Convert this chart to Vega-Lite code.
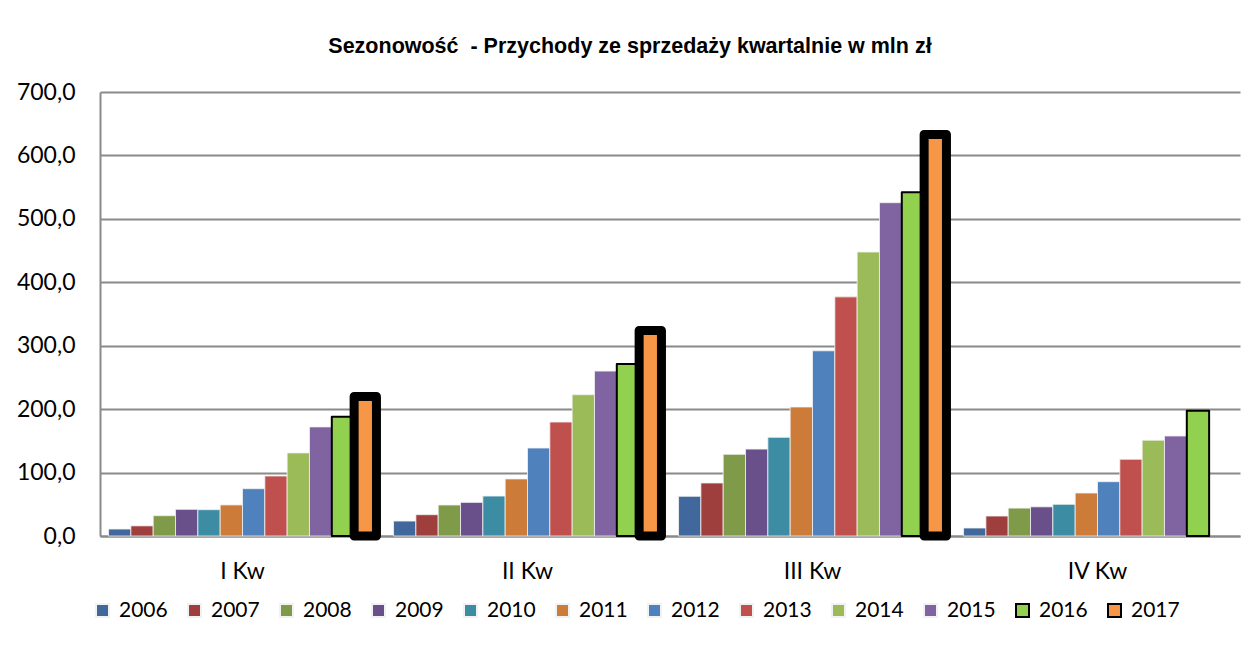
{
  "$schema": "https://vega.github.io/schema/vega-lite/v6.json",
  "width": 1140,
  "height": 444,
  "autosize": {"type": "none"},
  "padding": {"left": 100, "top": 92, "right": 11, "bottom": 110},
  "background": "white",
  "title": {
    "text": "Sezonowość \u00a0- Przychody ze sprzedaży kwartalnie w mln zł",
    "font": "Liberation Sans",
    "fontSize": 21.5,
    "fontWeight": "bold",
    "color": "#000000",
    "anchor": "middle",
    "frame": "group",
    "dx": -40,
    "baseline": "bottom",
    "offset": 2
  },
  "data": {
    "values": [
      {"kw": "I Kw", "rok": "2006", "v": 11},
      {"kw": "I Kw", "rok": "2007", "v": 16},
      {"kw": "I Kw", "rok": "2008", "v": 32},
      {"kw": "I Kw", "rok": "2009", "v": 42},
      {"kw": "I Kw", "rok": "2010", "v": 41.5},
      {"kw": "I Kw", "rok": "2011", "v": 49},
      {"kw": "I Kw", "rok": "2012", "v": 74.6},
      {"kw": "I Kw", "rok": "2013", "v": 94.6},
      {"kw": "I Kw", "rok": "2014", "v": 131},
      {"kw": "I Kw", "rok": "2015", "v": 172},
      {"kw": "I Kw", "rok": "2016", "v": 188},
      {"kw": "I Kw", "rok": "2017", "v": 220},
      {"kw": "II Kw", "rok": "2006", "v": 23.6},
      {"kw": "II Kw", "rok": "2007", "v": 33.6},
      {"kw": "II Kw", "rok": "2008", "v": 48.9},
      {"kw": "II Kw", "rok": "2009", "v": 53},
      {"kw": "II Kw", "rok": "2010", "v": 63},
      {"kw": "II Kw", "rok": "2011", "v": 90},
      {"kw": "II Kw", "rok": "2012", "v": 138.7},
      {"kw": "II Kw", "rok": "2013", "v": 179.7},
      {"kw": "II Kw", "rok": "2014", "v": 222.8},
      {"kw": "II Kw", "rok": "2015", "v": 260},
      {"kw": "II Kw", "rok": "2016", "v": 271},
      {"kw": "II Kw", "rok": "2017", "v": 324},
      {"kw": "III Kw", "rok": "2006", "v": 62.6},
      {"kw": "III Kw", "rok": "2007", "v": 83.6},
      {"kw": "III Kw", "rok": "2008", "v": 128.8},
      {"kw": "III Kw", "rok": "2009", "v": 137},
      {"kw": "III Kw", "rok": "2010", "v": 155.6},
      {"kw": "III Kw", "rok": "2011", "v": 203.4},
      {"kw": "III Kw", "rok": "2012", "v": 292},
      {"kw": "III Kw", "rok": "2013", "v": 377},
      {"kw": "III Kw", "rok": "2014", "v": 447.7},
      {"kw": "III Kw", "rok": "2015", "v": 525.5},
      {"kw": "III Kw", "rok": "2016", "v": 542},
      {"kw": "III Kw", "rok": "2017", "v": 633},
      {"kw": "IV Kw", "rok": "2006", "v": 12.6},
      {"kw": "IV Kw", "rok": "2007", "v": 31.5},
      {"kw": "IV Kw", "rok": "2008", "v": 44},
      {"kw": "IV Kw", "rok": "2009", "v": 46},
      {"kw": "IV Kw", "rok": "2010", "v": 50},
      {"kw": "IV Kw", "rok": "2011", "v": 67.8},
      {"kw": "IV Kw", "rok": "2012", "v": 85.6},
      {"kw": "IV Kw", "rok": "2013", "v": 121},
      {"kw": "IV Kw", "rok": "2014", "v": 151},
      {"kw": "IV Kw", "rok": "2015", "v": 157.7},
      {"kw": "IV Kw", "rok": "2016", "v": 197.6}
    ]
  },
  "mark": {"type": "bar", "strokeJoin": "round"},
  "encoding": {
    "x": {
      "field": "kw",
      "type": "nominal",
      "sort": ["I Kw", "II Kw", "III Kw", "IV Kw"],
      "scale": {"paddingInner": 0.06, "paddingOuter": 0.03},
      "axis": {
        "title": null,
        "labelAngle": 0,
        "labelFont": "Lato",
        "labelFontSize": 23,
        "labelColor": "#000000",
        "labelPadding": 24,
        "ticks": false,
        "domainColor": "#8a8a8a",
        "domainWidth": 2
      }
    },
    "xOffset": {
      "field": "rok",
      "type": "nominal",
      "scale": {
        "domain": ["2006","2007","2008","2009","2010","2011","2012","2013","2014","2015","2016","2017"],
        "paddingInner": 0,
        "paddingOuter": 0
      }
    },
    "y": {
      "field": "v",
      "type": "quantitative",
      "scale": {"domain": [0, 700], "nice": false},
      "axis": {
        "title": null,
        "values": [0, 100, 200, 300, 400, 500, 600, 700],
        "labelExpr": "replace(format(datum.value, '.1f'), '.', ',')",
        "labelFont": "Lato",
        "labelFontSize": 23,
        "labelColor": "#000000",
        "labelPadding": 25,
        "ticks": false,
        "domainColor": "#8a8a8a",
        "domainWidth": 2,
        "gridColor": "#8a8a8a",
        "gridWidth": 2
      }
    },
    "fill": {
      "field": "rok",
      "type": "nominal",
      "scale": {
        "domain": ["2006","2007","2008","2009","2010","2011","2012","2013","2014","2015","2016","2017"],
        "range": ["#41689C","#9E3F3D","#7F9A48","#69508A","#3C8CA4","#CC7B38","#4F81BD","#C0504D","#9BBB59","#8064A2","#92D050","#F79646"]
      },
      "legend": {
        "title": null,
        "orient": "none",
        "legendX": -8,
        "legendY": 508,
        "direction": "horizontal",
        "columns": 12,
        "padding": 0,
        "symbolType": "square",
        "symbolSize": 169,
        "symbolOpacity": 1,
        "symbolStrokeWidth": 2,
        "labelFont": "Lato",
        "labelFontSize": 21,
        "labelColor": "#000000",
        "labelOffset": 6,
        "columnPadding": 16
      }
    },
    "stroke": {
      "field": "rok",
      "type": "nominal",
      "scale": {
        "domain": ["2006","2007","2008","2009","2010","2011","2012","2013","2014","2015","2016","2017"],
        "range": ["#f2f2f2","#f2f2f2","#f2f2f2","#f2f2f2","#f2f2f2","#f2f2f2","#f2f2f2","#f2f2f2","#f2f2f2","#f2f2f2","#000000","#000000"]
      },
      "legend": {"title": null}
    },
    "strokeWidth": {
      "condition": [
        {"test": "datum.rok == '2017'", "value": 9},
        {"test": "datum.rok == '2016'", "value": 2}
      ],
      "value": 0.8
    }
  },
  "config": {
    "view": {"stroke": null},
    "axis": {"gridOpacity": 1}
  }
}
